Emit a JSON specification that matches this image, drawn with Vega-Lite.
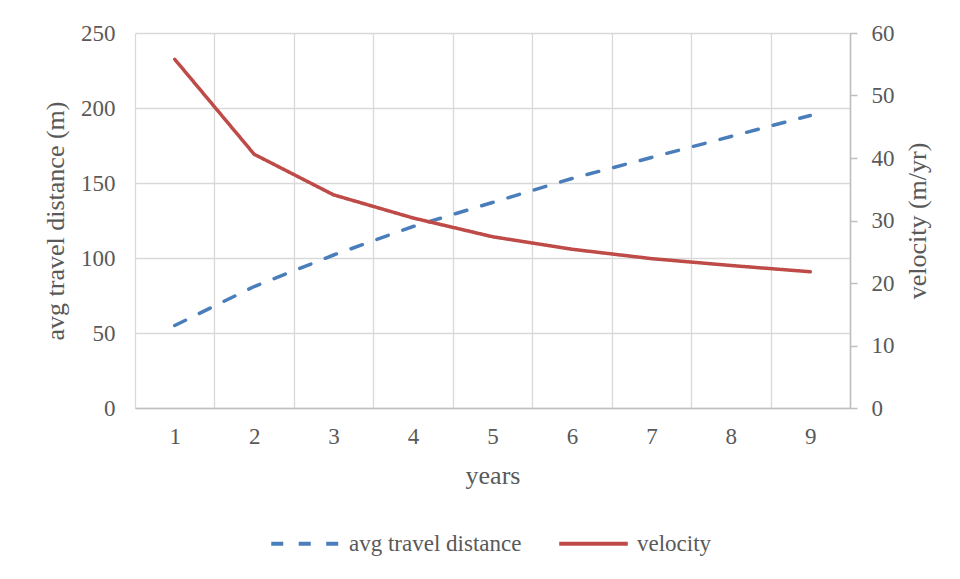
{
  "$schema": "https://vega.github.io/schema/vega-lite/v6.json",
  "width": 715,
  "height": 375,
  "autosize": {"type": "none"},
  "padding": {"left": 135, "top": 33, "right": 110, "bottom": 171},
  "background": "white",
  "config": {
    "font": "Liberation Serif",
    "view": {"stroke": null},
    "axis": {
      "labelFont": "Liberation Serif",
      "titleFont": "Liberation Serif",
      "labelColor": "#595959",
      "titleColor": "#595959",
      "labelFontSize": 23,
      "titleFontSize": 26,
      "titleFontWeight": "normal",
      "gridColor": "#d9d9d9",
      "gridWidth": 1.3,
      "domainColor": "#bfbfbf",
      "domainWidth": 1.5,
      "tickColor": "#bfbfbf",
      "tickWidth": 1.5
    },
    "legend": {
      "labelFont": "Liberation Serif",
      "labelColor": "#595959",
      "labelFontSize": 23,
      "labelLimit": 400
    }
  },
  "data": {
    "values": [
      {"year": 1, "series": "avg travel distance", "value": 55},
      {"year": 2, "series": "avg travel distance", "value": 81},
      {"year": 3, "series": "avg travel distance", "value": 102},
      {"year": 4, "series": "avg travel distance", "value": 121},
      {"year": 5, "series": "avg travel distance", "value": 137},
      {"year": 6, "series": "avg travel distance", "value": 153},
      {"year": 7, "series": "avg travel distance", "value": 167},
      {"year": 8, "series": "avg travel distance", "value": 181},
      {"year": 9, "series": "avg travel distance", "value": 195},
      {"year": 1, "series": "velocity", "value": 55.8},
      {"year": 2, "series": "velocity", "value": 40.6},
      {"year": 3, "series": "velocity", "value": 34.1},
      {"year": 4, "series": "velocity", "value": 30.4},
      {"year": 5, "series": "velocity", "value": 27.4},
      {"year": 6, "series": "velocity", "value": 25.4},
      {"year": 7, "series": "velocity", "value": 23.9},
      {"year": 8, "series": "velocity", "value": 22.8},
      {"year": 9, "series": "velocity", "value": 21.8}
    ]
  },
  "encoding": {
    "x": {
      "field": "year",
      "type": "ordinal",
      "scale": {"type": "band", "paddingInner": 0, "paddingOuter": 0},
      "axis": {
        "title": "years",
        "labelAngle": 0,
        "grid": true,
        "tickBand": "extent",
        "ticks": false,
        "labelPadding": 17,
        "titlePadding": 14
      }
    },
    "color": {
      "field": "series",
      "type": "nominal",
      "scale": {"domain": ["avg travel distance", "velocity"], "range": ["#4a7ebb", "#be4b48"]},
      "legend": {
        "title": null,
        "orient": "none",
        "direction": "horizontal",
        "legendX": 134,
        "legendY": 474,
        "symbolType": "stroke",
        "symbolSize": 4700,
        "symbolStrokeWidth": 4,
        "labelOffset": 7,
        "labelLimit": 400,
        "columnPadding": 29,
        "padding": 0
      }
    },
    "strokeDash": {
      "field": "series",
      "type": "nominal",
      "scale": {"domain": ["avg travel distance", "velocity"], "range": [[12, 15.5], [1, 0]]},
      "legend": {
        "title": null,
        "orient": "none",
        "direction": "horizontal",
        "legendX": 134,
        "legendY": 474,
        "symbolType": "stroke",
        "symbolSize": 4700,
        "symbolStrokeWidth": 4,
        "labelOffset": 7,
        "labelLimit": 400,
        "columnPadding": 29,
        "padding": 0
      }
    }
  },
  "layer": [
    {
      "transform": [{"filter": "datum.series == 'avg travel distance'"}],
      "mark": {"type": "line", "strokeWidth": 3.5, "strokeCap": "round"},
      "encoding": {
        "y": {
          "field": "value",
          "type": "quantitative",
          "scale": {"domain": [0, 250], "nice": false},
          "axis": {
            "title": "avg travel distance (m)",
            "values": [0, 50, 100, 150, 200, 250],
            "grid": true,
            "domain": false,
            "ticks": false,
            "labelPadding": 20,
            "titlePadding": 12
          }
        }
      }
    },
    {
      "transform": [{"filter": "datum.series == 'velocity'"}],
      "mark": {"type": "line", "strokeWidth": 3.5, "strokeCap": "round"},
      "encoding": {
        "y": {
          "field": "value",
          "type": "quantitative",
          "scale": {"domain": [0, 60], "nice": false},
          "axis": {
            "orient": "right",
            "title": "velocity (m/yr)",
            "titleAngle": 270,
            "values": [0, 10, 20, 30, 40, 50, 60],
            "grid": false,
            "domain": true,
            "ticks": true,
            "tickSize": 7,
            "labelPadding": 14,
            "titlePadding": 36
          }
        }
      }
    }
  ],
  "resolve": {"scale": {"y": "independent"}}
}
